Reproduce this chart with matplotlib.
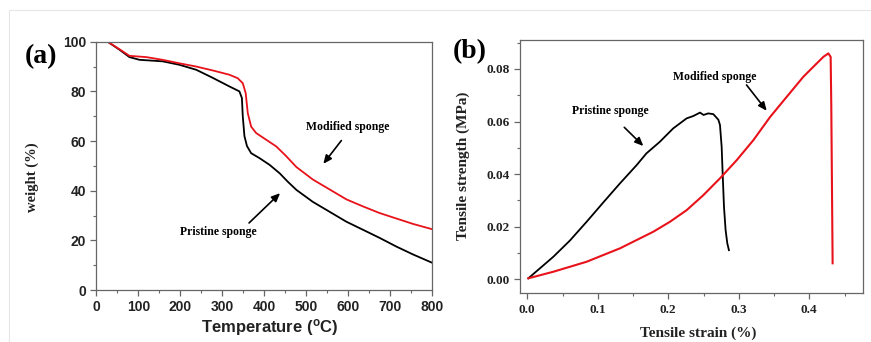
import matplotlib
matplotlib.use("Agg")
import matplotlib.pyplot as plt
from matplotlib.ticker import MultipleLocator, FixedLocator, FixedFormatter
from matplotlib.patches import Rectangle

# ---- Panel (a) data: TGA ----
temp_pristine = [27, 55, 79, 103, 158, 198, 238, 278, 317, 341, 347, 349, 353, 359, 369, 389, 413, 437, 457, 477, 516, 556, 596, 635, 675, 715, 755, 800]
wt_pristine = [100, 96.8, 93.8, 92.7, 92.1, 90.7, 88.7, 85.4, 82.0, 80.0, 77.3, 70.1, 62.0, 58.0, 55.1, 53.1, 50.4, 47.0, 43.5, 40.3, 35.5, 31.5, 27.5, 24.3, 21.0, 17.5, 14.3, 11.0]
temp_modified = [27, 55, 79, 119, 158, 198, 238, 278, 317, 337, 349, 356, 361, 369, 381, 405, 429, 452, 477, 516, 556, 596, 635, 675, 715, 755, 800]
wt_modified = [100, 97.0, 94.3, 93.8, 92.7, 91.3, 90.0, 88.4, 86.7, 85.3, 83.3, 79.3, 71.2, 65.8, 63.2, 60.5, 57.8, 54.0, 49.5, 44.5, 40.5, 36.5, 33.7, 31.0, 28.8, 26.6, 24.5]

# ---- Panel (b) data: tensile ----
strain_pristine = [0.0015, 0.037, 0.0606, 0.0842, 0.108, 0.1315, 0.155, 0.169, 0.188, 0.207, 0.226, 0.2355, 0.245, 0.250, 0.2567, 0.2639, 0.271, 0.2733, 0.2757, 0.2771, 0.279, 0.2813, 0.2837, 0.286]
stress_pristine = [0.0004, 0.0086, 0.0148, 0.0219, 0.0293, 0.0365, 0.0434, 0.0479, 0.0523, 0.0574, 0.0612, 0.0621, 0.0634, 0.0625, 0.0631, 0.0628, 0.0607, 0.0587, 0.0504, 0.0403, 0.0276, 0.0187, 0.0137, 0.0111]
strain_modified = [0.0015, 0.037, 0.0842, 0.1315, 0.1787, 0.2024, 0.226, 0.2497, 0.2733, 0.297, 0.3206, 0.3443, 0.368, 0.3915, 0.4057, 0.42, 0.427, 0.4303, 0.4312, 0.4322, 0.4331]
stress_modified = [0.0004, 0.0029, 0.0067, 0.0118, 0.0181, 0.0219, 0.0263, 0.032, 0.0384, 0.0453, 0.0529, 0.0617, 0.0694, 0.077, 0.0808, 0.0846, 0.0859, 0.0846, 0.0656, 0.034, 0.0061]

x_ticks_b = [0.0, 0.1, 0.2, 0.3, 0.4]
x_ticklabels_b = ["0.0", "0.1", "0.2", "0.3", "0.4"]
y_ticks_b = [0.00, 0.02, 0.04, 0.06, 0.08]
y_ticklabels_b = ["0.00", "0.02", "0.04", "0.06", "0.08"]

SANS = "Liberation Sans"
SERIF = "Liberation Serif"
SPINE = "#666666"
RED = "#e8121a"

plt.rcParams["font.weight"] = "bold"
plt.rcParams["axes.labelweight"] = "bold"

fig = plt.figure(figsize=(8.71, 3.42), dpi=100)
fig.patch.set_facecolor("white")
fig.add_artist(Rectangle((9/871, 0), 1, 1 - 10/342, transform=fig.transFigure,
                         fill=False, edgecolor="#e6e6e6", lw=0.8))

def style(ax, fam, size):
    for s in ax.spines.values():
        s.set_color(SPINE)
        s.set_linewidth(0.9)
    ax.tick_params(which="both", direction="out", color=SPINE, top=False, right=False,
                   labelcolor="#222222", labelsize=size, labelfontfamily=fam)
    ax.tick_params(which="major", length=4, width=0.9)
    ax.tick_params(which="minor", length=2.5, width=0.8)

arr = dict(arrowstyle="-|>,head_length=0.5,head_width=0.22", color="black", lw=1.2, shrinkA=0, shrinkB=0)

# Panel (a)
axa = fig.add_axes([96.3/871, 1-290/342, (432-96.3)/871, (290-41.7)/342])
style(axa, SANS, 10)
axa.plot(temp_pristine, wt_pristine, color="black", lw=1.3)
axa.plot(temp_modified, wt_modified, color=RED, lw=1.3)
axa.set_xlim(0, 800)
axa.set_ylim(0, 100)
axa.xaxis.set_major_locator(MultipleLocator(100))
axa.xaxis.set_minor_locator(MultipleLocator(50))
axa.yaxis.set_major_locator(MultipleLocator(20))
axa.yaxis.set_minor_locator(MultipleLocator(10))
axa.text(600, 65.8, "Modified sponge", family=SERIF, weight="bold", fontsize=8.5, ha="center", va="center")
axa.text(290, 23.5, "Pristine sponge", family=SERIF, weight="bold", fontsize=8.5, ha="center", va="center")
axa.annotate("", xy=(541, 50.8), xytext=(584, 60.2), arrowprops=arr)
axa.annotate("", xy=(438, 39), xytext=(364, 27), arrowprops=arr)

# Panel (b)
axb = fig.add_axes([520.3/871, 1-293.3/342, (863.3-520.3)/871, (293.3-40)/342])
style(axb, SERIF, 9.5)
axb.plot(strain_pristine, stress_pristine, color="black", lw=1.3)
axb.plot(strain_modified, stress_modified, color=RED, lw=1.5)
axb.set_xlim(-0.0099, 0.4766)
axb.set_ylim(-0.0053, 0.091)
axb.xaxis.set_major_locator(FixedLocator(x_ticks_b))
axb.xaxis.set_major_formatter(FixedFormatter(x_ticklabels_b))
axb.xaxis.set_minor_locator(MultipleLocator(0.05))
axb.yaxis.set_major_locator(FixedLocator(y_ticks_b))
axb.yaxis.set_major_formatter(FixedFormatter(y_ticklabels_b))
axb.yaxis.set_minor_locator(MultipleLocator(0.01))
axb.text(0.266, 0.0768, "Modified sponge", family=SERIF, weight="bold", fontsize=8.5, ha="center", va="center")
axb.text(0.1173, 0.0641, "Pristine sponge", family=SERIF, weight="bold", fontsize=8.5, ha="center", va="center")
axb.annotate("", xy=(0.3396, 0.0641), xytext=(0.311, 0.0739), arrowprops=arr)
axb.annotate("", xy=(0.1646, 0.0507), xytext=(0.1376, 0.0578), arrowprops=arr)

# Labels (figure coordinates)
def ft(x, y, s, **kw):
    fig.text(x/871, 1-y/342, s, ha="center", va="center", **kw)

ft(41, 57, "(a)", family=SERIF, weight="bold", fontsize=20)
ft(470, 52, "(b)", family=SERIF, weight="bold", fontsize=20)
ft(32, 177, "weight (%)", family=SERIF, weight="bold", fontsize=10.5, rotation=90, color="#222222")
ft(270, 328, "Temperature ($\\mathregular{^o}$C)", family=SANS, weight="bold", fontsize=12, color="#222222")
ft(463, 166, "Tensile strength (MPa)", family=SERIF, weight="bold", fontsize=11, rotation=90, color="#222222")
ft(698, 333, "Tensile strain (%)", family=SERIF, weight="bold", fontsize=11, color="#222222")

fig.savefig("out.png", dpi=100, facecolor="white")
